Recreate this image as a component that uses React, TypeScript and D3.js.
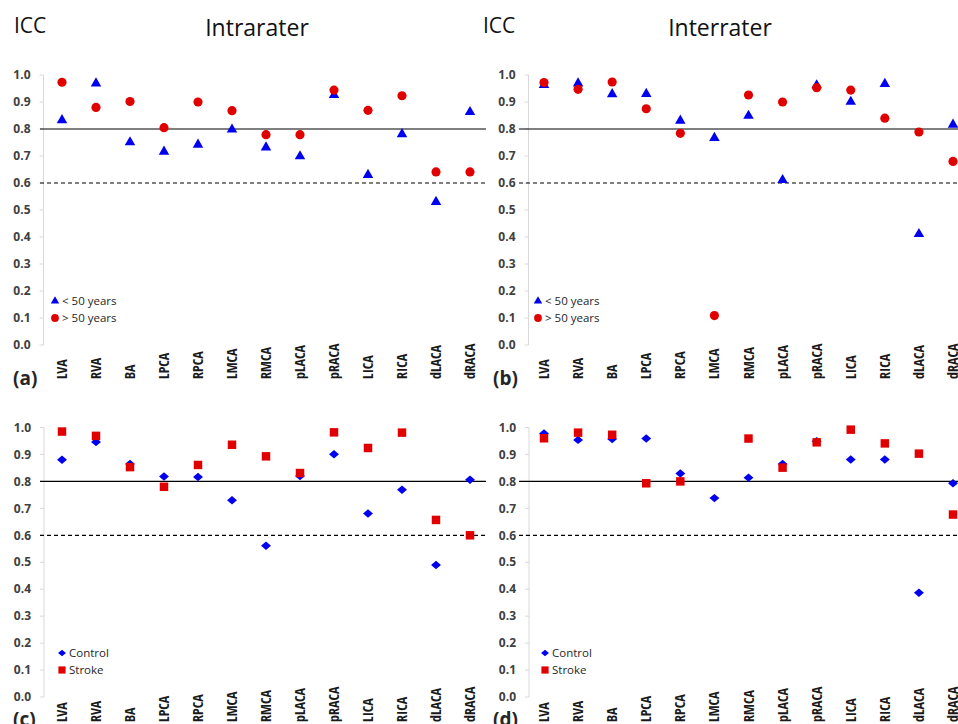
import React from 'react';
import * as d3 from 'd3';

// arteries on the x axis
const arteries = ['LVA', 'RVA', 'BA', 'LPCA', 'RPCA', 'LMCA', 'RMCA', 'pLACA', 'pRACA', 'LICA', 'RICA', 'dLACA', 'dRACA'];

// (a) intrarater by age
const intraUnder50 = [0.833, 0.969, 0.751, 0.716, 0.742, 0.798, 0.732, 0.699, 0.926, 0.63, 0.781, 0.53, 0.863];
const intraOver50 = [0.973, 0.88, 0.902, 0.805, 0.9, 0.868, 0.779, 0.779, 0.944, 0.869, 0.923, 0.641, 0.641];

// (b) interrater by age
const interUnder50 = [0.963, 0.969, 0.929, 0.93, 0.831, 0.767, 0.849, 0.611, 0.962, 0.901, 0.967, 0.411, 0.816];
const interOver50 = [0.972, 0.947, 0.974, 0.875, 0.784, 0.109, 0.926, 0.9, 0.953, 0.944, 0.84, 0.789, 0.68];

// (c) intrarater control vs stroke
const intraControl = [0.88, 0.946, 0.865, 0.818, 0.816, 0.73, 0.561, 0.82, 0.901, 0.681, 0.769, 0.49, 0.806];
const intraStroke = [0.985, 0.969, 0.853, 0.78, 0.861, 0.936, 0.893, 0.831, 0.982, 0.924, 0.981, 0.657, 0.6];

// (d) interrater control vs stroke (no stroke value for LMCA)
const interControl = [0.978, 0.954, 0.957, 0.959, 0.829, 0.738, 0.814, 0.865, 0.949, 0.881, 0.881, 0.387, 0.793];
const interStroke: (number | null)[] = [0.96, 0.981, 0.973, 0.793, 0.8, null, 0.959, 0.851, 0.945, 0.992, 0.941, 0.903, 0.677];

const ageLegend = ['< 50 years', '> 50 years'];
const groupLegend = ['Control', 'Stroke'];
const refLines = [
  { v: 0.8, dash: null },
  { v: 0.6, dash: '4,3' },
];

const BLUE = '#0000f0';
const RED = '#e00000';
const FONT = '"Open Sans", "Noto Sans", sans-serif';
const NARROW = '"Liberation Sans Narrow", "Open Sans Condensed", Roboto, sans-serif';

// wide, slightly flat diamond like the Excel marker
const wideDiamond = {
  draw(ctx: any, size: number) {
    const w = Math.sqrt(size) * 0.62;
    const h = w * 0.85;
    ctx.moveTo(0, -h);
    ctx.lineTo(w, 0);
    ctx.lineTo(0, h);
    ctx.lineTo(-w, 0);
    ctx.closePath();
  },
};

type PanelProps = {
  axisX: number;
  range: [number, number];
  top: number;
  bottom: number;
  lineX: [number, number];
  s1: (number | null)[];
  s2: (number | null)[];
  sym1: any;
  sym2: any;
  size1: number;
  size2: number;
  legend: string[];
  legendX: number;
  legendY: number;
  tag: string;
  tagX: number;
  tagY: number;
  labelBottom: number;
};

const Panel = (p: PanelProps) => {
  const x = d3.scalePoint<string>().domain(arteries).range(p.range);
  const y = d3.scaleLinear().domain([0, 1]).range([p.bottom, p.top]);
  const ticks = y.ticks(10);
  const m1 = d3.symbol().type(p.sym1).size(p.size1)() as string;
  const m2 = d3.symbol().type(p.sym2).size(p.size2)() as string;

  return (
    <g>
      {/* y axis */}
      <line x1={p.axisX} x2={p.axisX} y1={y(1)} y2={y(0)} stroke="#d9d9d9" strokeWidth={1} />
      {ticks.map((t) => (
        <g key={t}>
          <line x1={p.axisX - 4} x2={p.axisX} y1={y(t)} y2={y(t)} stroke="#d9d9d9" />
          <text
            x={p.axisX - 13}
            y={y(t)}
            dy="0.35em"
            textAnchor="end"
            fontFamily={FONT}
            fontWeight="bold"
            fontSize={12}
            fill="#404040"
          >
            {d3.format('.1f')(t)}
          </text>
        </g>
      ))}
      {refLines.map((r) => (
        <line
          key={r.v}
          x1={p.lineX[0]}
          x2={p.lineX[1]}
          y1={y(r.v)}
          y2={y(r.v)}
          stroke="#000"
          strokeWidth={1.2}
          strokeDasharray={r.dash ?? undefined}
        />
      ))}
      {/* category labels */}
      {arteries.map((a) => (
        <text
          key={a}
          transform={`translate(${x(a)},${p.labelBottom}) rotate(-90)`}
          dy="0.36em"
          textAnchor="start"
          fontFamily={NARROW}
          fontWeight="bold"
          fontSize={14}
          fill="#1a1a1a"
        >
          {a}
        </text>
      ))}
      {/* markers */}
      {p.s1.map((v, i) =>
        v == null ? null : (
          <path key={`a${i}`} d={m1} transform={`translate(${x(arteries[i])},${y(v)})`} fill={BLUE} />
        )
      )}
      {p.s2.map((v, i) =>
        v == null ? null : (
          <path key={`b${i}`} d={m2} transform={`translate(${x(arteries[i])},${y(v)})`} fill={RED} />
        )
      )}
      {/* legend */}
      {[m1, m2].map((m, i) => (
        <g key={i} transform={`translate(${p.legendX},${p.legendY + i * 17})`}>
          <path d={m} fill={i === 0 ? BLUE : RED} transform={i === 0 ? 'scale(0.8)' : 'scale(0.85)'} />
          <text x={7} dy="0.36em" fontFamily={FONT} fontSize={11.5} fill="#262626">
            {p.legend[i]}
          </text>
        </g>
      ))}
      <text x={p.tagX} y={p.tagY} fontFamily={FONT} fontWeight="bold" fontSize={19} fill="#262626">
        {p.tag}
      </text>
    </g>
  );
};

const App = () => {
  return (
    <svg
      width={958}
      height={724}
      style={{ position: 'absolute', left: 0, top: 0, background: '#fff' }}
    >
      <text x={14} y={33} fontFamily={FONT} fontSize={21} fill="#111">ICC</text>
      <text x={257} y={36} textAnchor="middle" fontFamily={FONT} fontSize={23} fill="#111">Intrarater</text>
      <text x={483} y={33} fontFamily={FONT} fontSize={21} fill="#111">ICC</text>
      <text x={720} y={36} textAnchor="middle" fontFamily={FONT} fontSize={23} fill="#111">Interrater</text>

      <Panel
        axisX={43.5} range={[62, 470]} top={75} bottom={345} lineX={[40, 486]}
        s1={intraUnder50} s2={intraOver50} sym1={d3.symbolTriangle} sym2={d3.symbolCircle}
        size1={48} size2={66} legend={ageLegend} legendX={55} legendY={301}
        tag="(a)" tagX={13} tagY={385} labelBottom={379}
      />
      <Panel
        axisX={528.5} range={[544, 953]} top={75} bottom={345} lineX={[519, 958]}
        s1={interUnder50} s2={interOver50} sym1={d3.symbolTriangle} sym2={d3.symbolCircle}
        size1={48} size2={66} legend={ageLegend} legendX={538} legendY={301}
        tag="(b)" tagX={493} tagY={385} labelBottom={379}
      />
      <Panel
        axisX={44} range={[62, 470]} top={427.5} bottom={697} lineX={[40, 486]}
        s1={intraControl} s2={intraStroke} sym1={wideDiamond} sym2={d3.symbolSquare}
        size1={64} size2={72} legend={groupLegend} legendX={62} legendY={653}
        tag="(c)" tagX={13} tagY={726} labelBottom={722}
      />
      <Panel
        axisX={529} range={[544, 953]} top={427.5} bottom={697} lineX={[519, 958]}
        s1={interControl} s2={interStroke} sym1={wideDiamond} sym2={d3.symbolSquare}
        size1={64} size2={72} legend={groupLegend} legendX={545} legendY={653}
        tag="(d)" tagX={493} tagY={726} labelBottom={722}
      />
    </svg>
  );
};

export default App;
